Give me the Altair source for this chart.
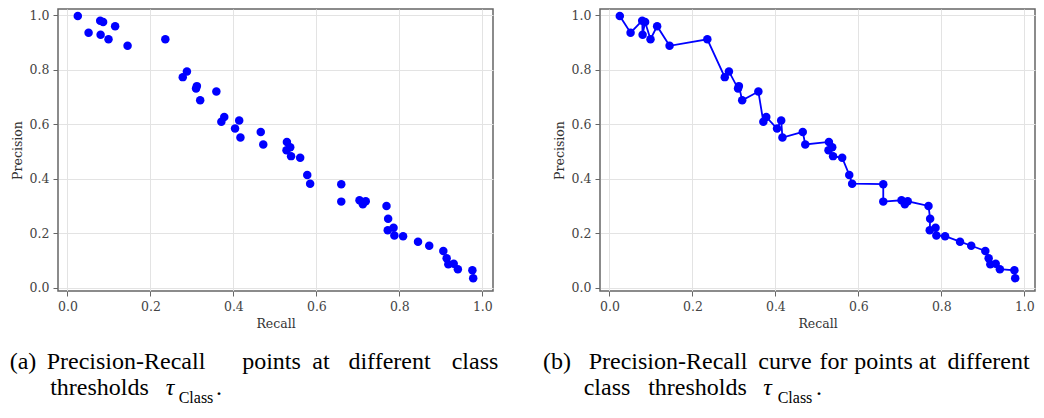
import altair as alt
import pandas as pd

# ---- data ----
recall = [0.025, 0.051, 0.079, 0.080, 0.086, 0.099, 0.115, 0.145, 0.236, 0.278,
          0.288, 0.310, 0.312, 0.320, 0.359, 0.371, 0.378, 0.404, 0.414, 0.417,
          0.466, 0.472, 0.529, 0.537, 0.528, 0.539, 0.561, 0.578, 0.585, 0.660,
          0.660, 0.704, 0.712, 0.719, 0.769, 0.773, 0.772, 0.786, 0.788, 0.809,
          0.845, 0.872, 0.906, 0.914, 0.918, 0.931, 0.941, 0.976, 0.978]
precision = [0.997, 0.936, 0.980, 0.929, 0.975, 0.912, 0.960, 0.888, 0.912, 0.773,
             0.794, 0.731, 0.740, 0.688, 0.720, 0.609, 0.627, 0.584, 0.614, 0.551,
             0.572, 0.526, 0.535, 0.516, 0.505, 0.483, 0.477, 0.414, 0.382, 0.380,
             0.316, 0.321, 0.306, 0.317, 0.300, 0.253, 0.211, 0.220, 0.192, 0.189,
             0.169, 0.154, 0.135, 0.108, 0.086, 0.088, 0.068, 0.064, 0.035]
order = list(range(len(recall)))

tick_values = [0.0, 0.2, 0.4, 0.6, 0.8, 1.0]

caption_a_line1 = ["(a)", "Precision-Recall", "points", "at", "different", "class"]
caption_a_line2 = ["thresholds"]
caption_b_line1 = ["(b)", "Precision-Recall", "curve", "for", "points", "at", "different"]
caption_b_line2 = ["class", "thresholds"]
math_symbol = "\u03c4"
math_sub = "Class"
math_end = "."

df = pd.DataFrame({"Recall": recall, "Precision": precision, "idx": order})

# ---- layout (pixel positions of the caption words, page coordinates) ----
W, H = 435, 282
TOP = 8
LEFT_A = 57
LEFT_B = 599
CAP_FONT = "Liberation Serif"
AX_FONT = "'DejaVu Serif', 'Liberation Serif', serif"
CAP_SIZE = 24
SUB_SIZE = 16
BASE1, BASE2, BASE_SUB = 368, 394, 402

xenc = alt.X("Recall:Q",
             scale=alt.Scale(domain=[-0.0227, 1.0257], nice=False, zero=False),
             axis=alt.Axis(values=tick_values, format=".1f", title="Recall"))
yenc = alt.Y("Precision:Q",
             scale=alt.Scale(domain=[-0.0121, 1.0231], nice=False, zero=False),
             axis=alt.Axis(values=tick_values, format=".1f", title="Precision"))


def piece(txt, x_page, base_page, left_page, size=CAP_SIZE, style="normal"):
    return alt.Chart(alt.Data(values=[{"k": 1}])).mark_text(
        text=txt, align="center", baseline="alphabetic", font=CAP_FONT,
        fontSize=size, fontStyle=style, color="#000000"
    ).encode(x=alt.value(x_page - left_page), y=alt.value(base_page - TOP))


def caption(line1, xs1, line2, xs2, math_xs, left_page):
    parts = []
    for w, xp in zip(line1, xs1):
        parts.append(piece(w, xp, BASE1, left_page))
    for w, xp in zip(line2, xs2):
        parts.append(piece(w, xp, BASE2, left_page))
    parts.append(piece(math_symbol, math_xs[0], BASE2, left_page, style="italic"))
    parts.append(piece(math_sub, math_xs[1], BASE_SUB, left_page, size=SUB_SIZE))
    parts.append(piece(math_end, math_xs[2], BASE2, left_page))
    return parts


cap_a = caption(caption_a_line1, [22, 125, 270.5, 320, 388.5, 474],
                caption_a_line2, [98.5], [169, 195, 218], LEFT_A)
cap_b = caption(caption_b_line1, [556, 667, 784, 832.5, 882.5, 926.5, 987.5],
                caption_b_line2, [606, 696.5], [766.5, 794, 818], LEFT_B)

base = alt.Chart(df)
pts = base.mark_circle(size=72, color="#0000ff", opacity=1).encode(x=xenc, y=yenc)
line = base.mark_line(color="#0000ff", strokeWidth=1.8).encode(x=xenc, y=yenc, order="idx:Q")

left = alt.layer(pts, *cap_a).properties(width=W, height=H)
right = alt.layer(line, pts, *cap_b).properties(width=W, height=H)

chart = alt.hconcat(left, right, spacing=LEFT_B - LEFT_A - W, bounds="flush").properties(
    padding=0
).configure_view(
    stroke="#666666", strokeWidth=1.5
).configure_axis(
    labelFont=AX_FONT, labelFontSize=12.5, labelColor="#444444",
    titleFont=AX_FONT, titleFontSize=12.5, titleColor="#333333",
    titleFontWeight="normal", tickColor="#666666", tickSize=5, tickWidth=1,
    gridColor="#e3e3e3", gridWidth=1, domain=False, labelPadding=4,
    titlePadding=5, labelFlush=False, labelOverlap=False
)

chart.save("out.html", embed_options={"renderer": "svg", "actions": False})
